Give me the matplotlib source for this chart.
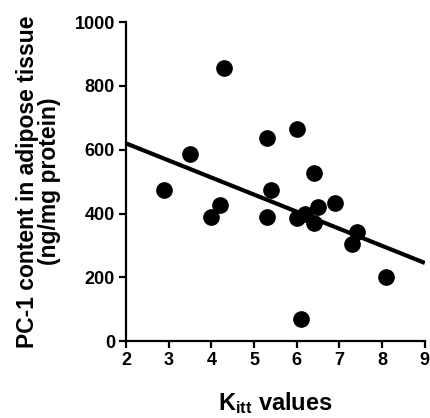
import matplotlib
matplotlib.use("Agg")
import matplotlib.pyplot as plt

# values
kitt = [2.9, 3.5, 4.0, 4.2, 4.3, 5.3, 5.3, 5.4, 6.0, 6.0, 6.2, 6.1,
        6.4, 6.4, 6.5, 6.9, 7.3, 7.4, 8.1]
pc1 = [473, 586, 389, 426, 856, 636, 389, 473, 664, 386, 400, 69,
       527, 370, 420, 432, 304, 342, 200]

fit_x = [2, 9]
fit_y = [620, 245]

x_ticks = [2, 3, 4, 5, 6, 7, 8, 9]
y_ticks = [0, 200, 400, 600, 800, 1000]

plt.rcParams['font.family'] = ['Liberation Sans', 'DejaVu Sans']
plt.rcParams['font.weight'] = 'bold'
plt.rcParams['mathtext.fontset'] = 'custom'
plt.rcParams['mathtext.rm'] = 'Liberation Sans:bold'
plt.rcParams['mathtext.bf'] = 'Liberation Sans:bold'
plt.rcParams['mathtext.it'] = 'Liberation Sans:bold'

fig = plt.figure(figsize=(4.3, 4.18), dpi=100)
ax = fig.add_axes([0.293, 0.184, 0.695, 0.763])

ax.plot(kitt, pc1, 'o', color='black', markersize=11, clip_on=False, zorder=3)
ax.plot(fit_x, fit_y, color='black', linewidth=3, solid_capstyle='butt')

ax.set_xlim(2, 9)
ax.set_ylim(0, 1000)
ax.set_xticks(x_ticks)
ax.set_yticks(y_ticks)
for side in ['top', 'right']:
    ax.spines[side].set_visible(False)
for side in ['left', 'bottom']:
    ax.spines[side].set_linewidth(1.6)
ax.tick_params(direction='out', length=5, width=1.6, labelsize=13, pad=3)
for lab in ax.get_xticklabels() + ax.get_yticklabels():
    lab.set_fontweight('bold')

ax.set_ylabel('PC-1 content in adipose tissue\n(ng/mg protein)',
              fontsize=16.5, fontweight='bold', linespacing=0.9, labelpad=10)
ax.set_xlabel(r'$\mathrm{K_{itt}}$ values', fontsize=17, fontweight='bold', labelpad=15)

fig.savefig('out.png', dpi=100)
